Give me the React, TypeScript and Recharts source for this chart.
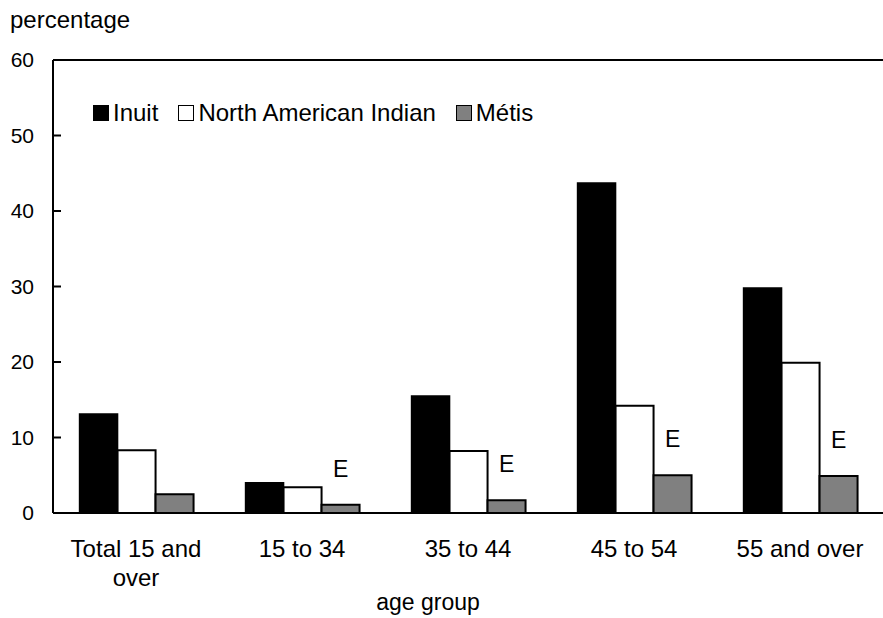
import React from "react";
import {
  BarChart,
  Bar,
  XAxis,
  YAxis,
  Legend,
  Label,
  LabelList,
  ReferenceLine,
} from "recharts";

const categories = ["Total 15 and over", "15 to 34", "35 to 44", "45 to 54", "55 and over"];
const inuit = [13.1, 4.0, 15.5, 43.7, 29.8];
const northAmericanIndian = [8.3, 3.4, 8.2, 14.2, 19.9];
const metis = [2.5, 1.1, 1.7, 5.0, 4.9];
const metisFlags = ["", "E", "E", "E", "E"];
const yTicks = [0, 10, 20, 30, 40, 50, 60];

const FONT = '"Liberation Sans", Arial, sans-serif';

const data = categories.map((group, i) => ({
  group,
  inuit: inuit[i],
  nai: northAmericanIndian[i],
  metis: metis[i],
  flag: metisFlags[i],
}));

const legendItems = [
  { name: "Inuit", color: "#000000" },
  { name: "North American Indian", color: "#ffffff" },
  { name: "Métis", color: "#808080" },
];

// greedy word wrap, max chars per line
function wrap(label: string, max = 12) {
  const lines: string[] = [];
  let cur = "";
  for (const w of label.split(" ")) {
    const next = cur ? cur + " " + w : w;
    if (next.length > max && cur) {
      lines.push(cur);
      cur = w;
    } else {
      cur = next;
    }
  }
  if (cur) lines.push(cur);
  return lines;
}

function YTick(props: any) {
  const { x, y, payload } = props;
  return (
    <g>
      <line x1={x + 18} x2={x + 26} y1={y} y2={y} stroke="#000" strokeWidth={2} />
      <text x={x - 1} y={y} dy="0.355em" textAnchor="end" fontSize={21} fontFamily={FONT} fill="#000">
        {payload.value}
      </text>
    </g>
  );
}

function XTick(props: any) {
  const { x, y, payload } = props;
  const lines = wrap(String(payload.value));
  return (
    <text x={x} y={y + 17} textAnchor="middle" fontSize={24} fontFamily={FONT} fill="#000">
      {lines.map((l, i) => (
        <tspan key={i} x={x} dy={i === 0 ? 0 : 28.5}>
          {l}
        </tspan>
      ))}
    </text>
  );
}

function LegendBox() {
  return (
    <div style={{ display: "flex", alignItems: "center", fontFamily: FONT, fontSize: 24, lineHeight: 1, color: "#000" }}>
      {legendItems.map((item) => (
        <div key={item.name} style={{ display: "flex", alignItems: "center", marginRight: 20 }}>
          <span
            style={{
              width: 14,
              height: 14,
              background: item.color,
              border: "1.5px solid #000",
              marginRight: 4,
              display: "inline-block",
            }}
          />
          <span>{item.name}</span>
        </div>
      ))}
    </div>
  );
}

export default function App() {
  return (
    <div style={{ position: "absolute", left: 0, top: 0, width: 883, height: 618, background: "#fff" }}>
      <BarChart
        width={883}
        height={618}
        data={data}
        margin={{ top: 60, right: 0, bottom: 0, left: 0 }}
        barCategoryGap="16%"
        barGap={0}
      >
        <ReferenceLine y={60} stroke="#000" strokeWidth={2} />
        <XAxis
          dataKey="group"
          height={105}
          tickSize={0}
          tickMargin={27}
          tickLine={false}
          axisLine={{ stroke: "#000", strokeWidth: 2 }}
          tick={<XTick />}
          interval={0}
        >
          <Label
            content={(p: any) => (
              <text
                x={p.viewBox.x + p.viewBox.width / 2 - 40}
                y={p.viewBox.y + p.viewBox.height - 8}
                textAnchor="middle"
                fontSize={23}
                fontFamily={FONT}
                fill="#000"
              >
                age group
              </text>
            )}
          />
        </XAxis>
        <YAxis
          width={53}
          domain={[0, 60]}
          ticks={yTicks}
          tickSize={0}
          tickMargin={18}
          tickLine={false}
          axisLine={{ stroke: "#000", strokeWidth: 2 }}
          tick={<YTick />}
        >
          <Label
            content={(p: any) => (
              <text x={p.viewBox.x + 10} y={p.viewBox.y - 32} fontSize={24} fontFamily={FONT} fill="#000">
                percentage
              </text>
            )}
          />
        </YAxis>
        <Legend
          layout="horizontal"
          verticalAlign="middle"
          align="center"
          wrapperStyle={{ top: 101, left: 93, width: "auto" }}
          content={() => <LegendBox />}
        />
        <Bar dataKey="inuit" name="Inuit" fill="#000" stroke="#000" strokeWidth={1.5} isAnimationActive={false} />
        <Bar dataKey="nai" name="North American Indian" fill="#fff" stroke="#000" strokeWidth={2} isAnimationActive={false} />
        <Bar dataKey="metis" name="Métis" fill="#808080" stroke="#000" strokeWidth={2} isAnimationActive={false}>
          <LabelList
            dataKey="flag"
            content={(p: any) =>
              p.value ? (
                <text
                  x={p.x + p.width / 2}
                  y={p.y - 28}
                  textAnchor="middle"
                  fontSize={23}
                  fontFamily={FONT}
                  fill="#000"
                >
                  {p.value}
                </text>
              ) : null
            }
          />
        </Bar>
      </BarChart>
    </div>
  );
}
